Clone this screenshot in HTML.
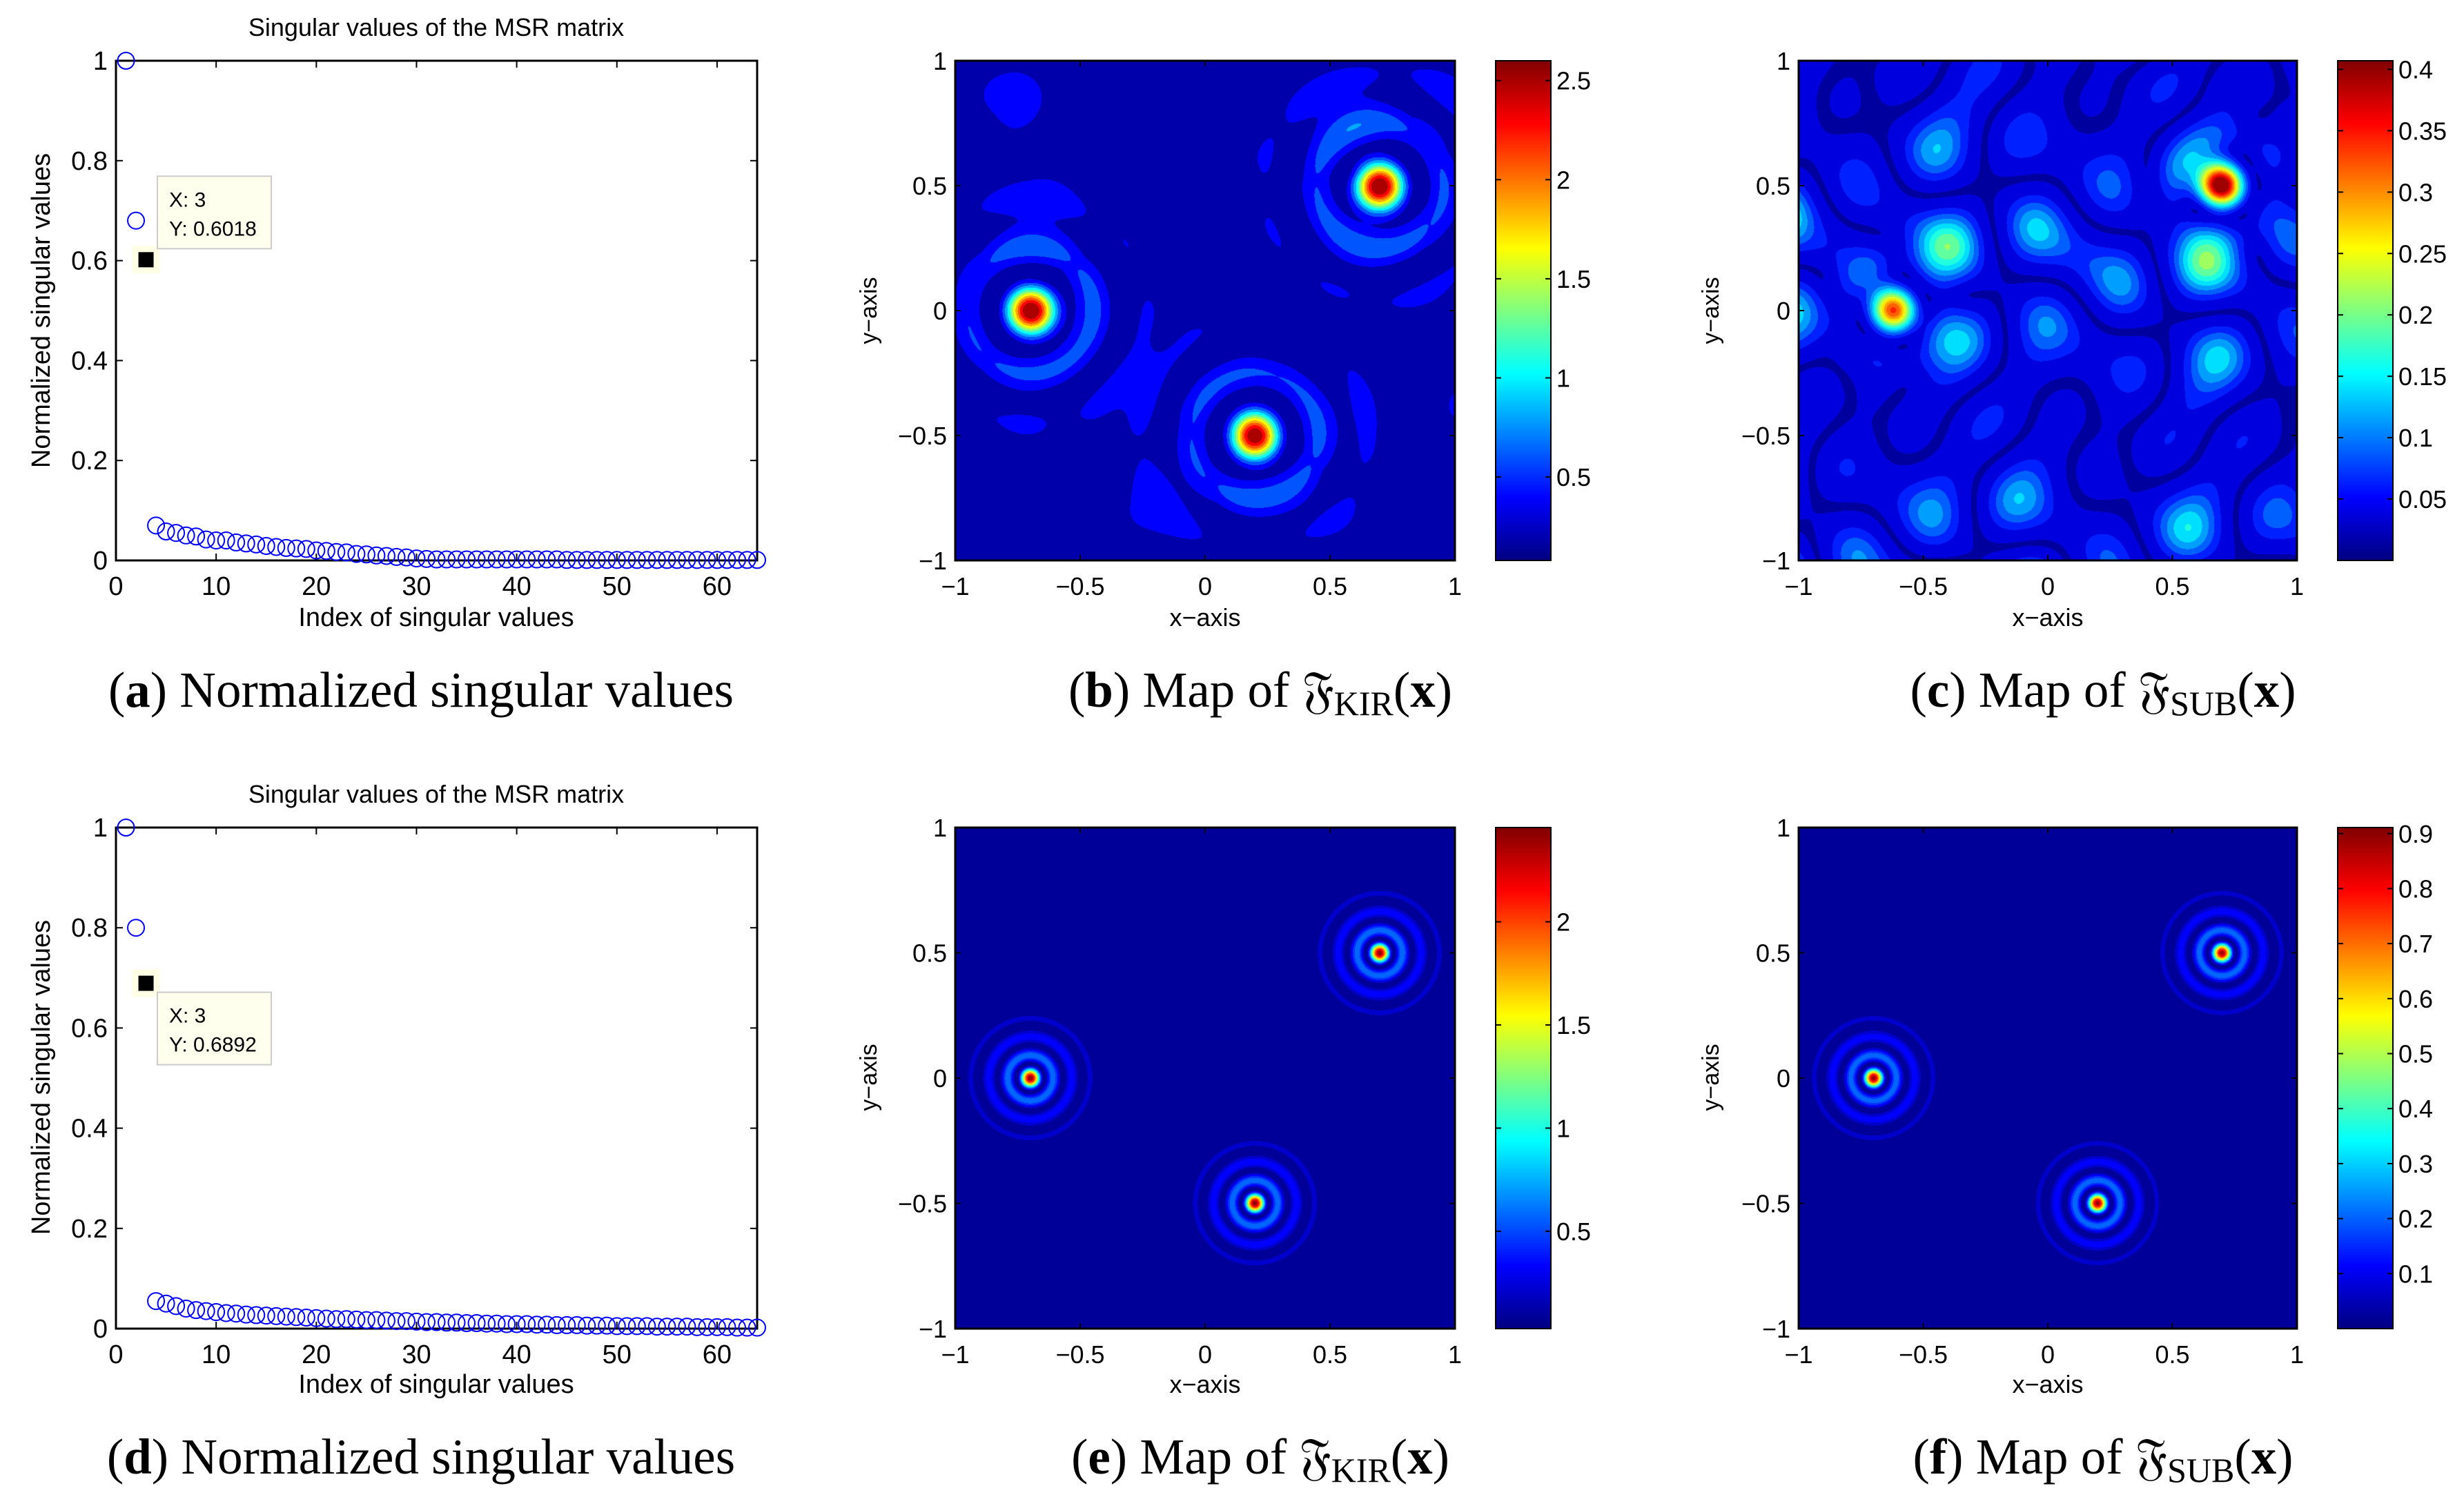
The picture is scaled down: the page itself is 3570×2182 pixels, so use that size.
<!DOCTYPE html>
<html><head><meta charset="utf-8">
<style>
html,body{margin:0;padding:0;background:#fff;}
#wrap{position:relative;width:3570px;height:2182px;overflow:hidden;}
canvas{position:absolute;}
svg{position:absolute;left:0;top:0;}
.t{font-family:"Liberation Sans",sans-serif;fill:#000;}
.n{font-family:"Liberation Sans Narrow","Liberation Sans",sans-serif;fill:#000;}
.cap{font-family:"Liberation Serif","DejaVu Serif",serif;fill:#000;font-size:73px;}
</style></head>
<body>
<div id="wrap">
<canvas id="cb" width="724" height="724" style="left:1384px;top:88px"></canvas>
<canvas id="cc" width="722" height="724" style="left:2606px;top:88px"></canvas>
<canvas id="ce" width="724" height="726" style="left:1384px;top:1199px"></canvas>
<canvas id="cf" width="722" height="726" style="left:2606px;top:1199px"></canvas>
<svg id="s" width="3570" height="2182" xmlns="http://www.w3.org/2000/svg">
<defs>
<linearGradient id="jet" x1="0" y1="1" x2="0" y2="0">
<stop offset="0" stop-color="#000080"/><stop offset="0.125" stop-color="#0000ff"/>
<stop offset="0.375" stop-color="#00ffff"/><stop offset="0.625" stop-color="#ffff00"/>
<stop offset="0.875" stop-color="#ff0000"/><stop offset="1" stop-color="#800000"/>
</linearGradient>
</defs>
<text class="t" x="632" y="52" font-size="36" text-anchor="middle">Singular values of the MSR matrix</text>
<text class="t" x="632" y="1163" font-size="36" text-anchor="middle">Singular values of the MSR matrix</text>
<text class="t" x="632" y="907" font-size="38" text-anchor="middle">Index of singular values</text>
<text class="t" x="632" y="2018" font-size="38" text-anchor="middle">Index of singular values</text>
<text class="t" font-size="38" text-anchor="middle" transform="translate(72,450) rotate(-90)">Normalized singular values</text>
<text class="t" font-size="38" text-anchor="middle" transform="translate(72,1561) rotate(-90)">Normalized singular values</text>
<text class="n" x="1746" y="907" font-size="36" text-anchor="middle">x−axis</text>
<text class="n" x="2967" y="907" font-size="36" text-anchor="middle">x−axis</text>
<text class="n" x="1746" y="2018" font-size="36" text-anchor="middle">x−axis</text>
<text class="n" x="2967" y="2018" font-size="36" text-anchor="middle">x−axis</text>
<text class="t" font-size="34" text-anchor="middle" transform="translate(1270,450) rotate(-90)">y−axis</text>
<text class="t" font-size="34" text-anchor="middle" transform="translate(2490,450) rotate(-90)">y−axis</text>
<text class="t" font-size="34" text-anchor="middle" transform="translate(1270,1561) rotate(-90)">y−axis</text>
<text class="t" font-size="34" text-anchor="middle" transform="translate(2490,1561) rotate(-90)">y−axis</text>
<text class="cap" x="610" y="1024" text-anchor="middle">(<tspan font-weight="bold">a</tspan>) Normalized singular values</text>
<text class="cap" x="1826" y="1024" text-anchor="middle">(<tspan font-weight="bold">b</tspan>) Map of 𝔉<tspan font-size="50" dy="12">KIR</tspan><tspan dy="-12">(</tspan><tspan font-weight="bold">x</tspan>)</text>
<text class="cap" x="3047" y="1024" text-anchor="middle">(<tspan font-weight="bold">c</tspan>) Map of 𝔉<tspan font-size="50" dy="12">SUB</tspan><tspan dy="-12">(</tspan><tspan font-weight="bold">x</tspan>)</text>
<text class="cap" x="610" y="2135" text-anchor="middle">(<tspan font-weight="bold">d</tspan>) Normalized singular values</text>
<text class="cap" x="1826" y="2135" text-anchor="middle">(<tspan font-weight="bold">e</tspan>) Map of 𝔉<tspan font-size="50" dy="12">KIR</tspan><tspan dy="-12">(</tspan><tspan font-weight="bold">x</tspan>)</text>
<text class="cap" x="3047" y="2135" text-anchor="middle">(<tspan font-weight="bold">f</tspan>) Map of 𝔉<tspan font-size="50" dy="12">SUB</tspan><tspan dy="-12">(</tspan><tspan font-weight="bold">x</tspan>)</text>
<g id="dyn"></g>
</svg>
</div>
<script>
// ---- scatter data ----
const svTop = [1,0.68,0.6018,0.070,0.058,0.055,0.050,0.048,0.042,0.040,0.040,0.036,0.034,0.032,0.029,0.027,0.025,0.024,0.023,0.020,0.019,0.017,0.016,0.013,0.012,0.010,0.009,0.007,0.006,0.004,0.003,0.002,0.002,0.002,0.002,0.002,0.002,0.002,0.002,0.002,0.002,0.002,0.002,0.002,0.001,0.001,0.001,0.001,0.001,0.001,0.001,0.001,0.001,0.001,0.001,0.001,0.001,0.001,0.001,0.001,0.001,0.001,0.001,0.001];
const svBot = [1,0.8,0.6892,0.055,0.050,0.045,0.040,0.037,0.035,0.033,0.031,0.030,0.028,0.027,0.026,0.025,0.024,0.023,0.022,0.021,0.020,0.019,0.019,0.018,0.017,0.017,0.016,0.015,0.015,0.014,0.013,0.013,0.012,0.012,0.011,0.011,0.010,0.010,0.009,0.009,0.009,0.008,0.008,0.007,0.007,0.007,0.006,0.006,0.006,0.005,0.005,0.005,0.005,0.004,0.004,0.004,0.004,0.003,0.003,0.003,0.003,0.002,0.002,0.002];
const xTicksSV = [0,10,20,30,40,50,60];
const yTicksSV = [0,0.2,0.4,0.6,0.8,1];
const yTickLabelsSV = ["0","0.2","0.4","0.6","0.8","1"];
const tipIndex = 3;
// ---- map data ----
const mapTicks = [-1,-0.5,0,0.5,1];
const mapTickLabels = ["−1","−0.5","0","0.5","1"];
const srcX = [-0.7,0.7,0.2];
const srcY = [0,0.5,-0.5];
const subSrcX = [-0.62,0.7];
const subSrcY = [0,0.5];
const subSrcW = [0.78,1.0];
const cbRangeB = [0.079,2.6]; const cbTicksB = [0.5,1,1.5,2,2.5]; const cbLabelsB=["0.5","1","1.5","2","2.5"];
const cbRangeC = [0.0,0.407]; const cbTicksC = [0.05,0.1,0.15,0.2,0.25,0.3,0.35,0.4]; const cbLabelsC=["0.05","0.1","0.15","0.2","0.25","0.3","0.35","0.4"];
const cbRangeE = [0.028,2.457]; const cbTicksE = [0.5,1,1.5,2]; const cbLabelsE=["0.5","1","1.5","2"];
const cbRangeF = [0.0,0.911]; const cbTicksF = [0.1,0.2,0.3,0.4,0.5,0.6,0.7,0.8,0.9]; const cbLabelsF=["0.1","0.2","0.3","0.4","0.5","0.6","0.7","0.8","0.9"];

const NS="http://www.w3.org/2000/svg";
const dyn=document.getElementById('dyn');
function mk(tag,attrs,parent){const e=document.createElementNS(NS,tag);for(const k in attrs)e.setAttribute(k,attrs[k]);(parent||dyn).appendChild(e);return e;}

function scatterPlot(vals,x0,x1,y0,y1,tag,tipBelow){
  const sx=v=>x0+v/64*(x1-x0), sy=v=>y1-v*(y1-y0);
  const g=mk('g',{});
  
  
  const fr=mk('rect',{x:x0,y:y0,width:x1-x0,height:y1-y0,fill:'none',stroke:'#000','stroke-width':3},g);
  
  
  xTicksSV.forEach(v=>{
    const x=sx(v);
    mk('line',{x1:x,x2:x,y1:y1,y2:y1-10,stroke:'#000','stroke-width':2},g);
    mk('line',{x1:x,x2:x,y1:y0,y2:y0+10,stroke:'#000','stroke-width':2},g);
    const t=mk('text',{x:x,y:y1+50,'font-size':38,'text-anchor':'middle',class:'t'},g);
    t.textContent=String(v);
    
    
  });
  yTicksSV.forEach((v,i)=>{
    const y=sy(v);
    mk('line',{x1:x0,x2:x0+10,y1:y,y2:y,stroke:'#000','stroke-width':2},g);
    mk('line',{x1:x1,x2:x1-10,y1:y,y2:y,stroke:'#000','stroke-width':2},g);
    const t=mk('text',{x:x0-12,y:y+13,'font-size':38,'text-anchor':'end',class:'t'},g);
    t.textContent=yTickLabelsSV[i];
    
    
  });
  vals.forEach((v,i)=>{
    const idx=i+1;
    if(idx===tipIndex) return;
    const c=mk('circle',{cx:sx(idx),cy:sy(v),r:12,fill:'none',stroke:'#0000ff','stroke-width':2},g);
    
    
  });
  const px=sx(tipIndex), py=sy(vals[tipIndex-1]);
  const bg=mk('rect',{x:px-20,y:py-20,width:40,height:40,fill:'#ffffe6'},g);
  
  
  const sq=mk('rect',{x:px-11,y:py-11,width:22,height:22,fill:'#000'},g);
  
  
  const by= tipBelow? py+13 : py-121;
  const box=mk('rect',{x:228,y:by,width:165,height:105,fill:'#ffffee',stroke:'#cccccc','stroke-width':2},g);
  
  
  const t1=mk('text',{x:245,y:by+44,'font-size':30,class:'t'},g);
  t1.textContent='X: '+tipIndex;
  
  
  const t2=mk('text',{x:245,y:by+86,'font-size':30,class:'t'},g);
  t2.textContent='Y: '+vals[tipIndex-1];
  
  
}
scatterPlot(svTop,168,1097,88,812,'a',false);
scatterPlot(svBot,168,1097,1199,1925,'d',true);

function mapAxes(x0,x1,y0,y1,tag){
  const g=mk('g',{});
  
  
  const sx=v=>x0+(v+1)/2*(x1-x0), sy=v=>y1-(v+1)/2*(y1-y0);
  const fr=mk('rect',{x:x0,y:y0,width:x1-x0,height:y1-y0,fill:'none',stroke:'#000','stroke-width':3},g);
  
  
  mapTicks.forEach((v,i)=>{
    const x=sx(v),y=sy(v);
    mk('line',{x1:x,x2:x,y1:y1,y2:y1-8,stroke:'#000','stroke-width':2},g);
    mk('line',{x1:x,x2:x,y1:y0,y2:y0+8,stroke:'#000','stroke-width':2},g);
    mk('line',{x1:x0,x2:x0+8,y1:y,y2:y,stroke:'#000','stroke-width':2},g);
    mk('line',{x1:x1,x2:x1-8,y1:y,y2:y,stroke:'#000','stroke-width':2},g);
    const t=mk('text',{x:x,y:y1+50,'font-size':36,'text-anchor':'middle',class:'n'},g);
    t.textContent=mapTickLabels[i];
    
    
    const u=mk('text',{x:x0-12,y:y+13,'font-size':36,'text-anchor':'end',class:'n'},g);
    u.textContent=mapTickLabels[i];
    
    
  });
}
function colorbar(x0,x1,y0,y1,range,ticks,labels,tag){
  const g=mk('g',{});
  
  
  mk('rect',{x:x0,y:y0,width:x1-x0,height:y1-y0,fill:'url(#jet)',stroke:'#000','stroke-width':2},g);
  const sy=v=>y1-(v-range[0])/(range[1]-range[0])*(y1-y0);
  ticks.forEach((v,i)=>{
    const y=sy(v);
    mk('line',{x1:x0,x2:x0+8,y1:y,y2:y,stroke:'#000','stroke-width':2},g);
    mk('line',{x1:x1,x2:x1-8,y1:y,y2:y,stroke:'#000','stroke-width':2},g);
    const t=mk('text',{x:x1+8,y:y+13,'font-size':36,class:'n'},g);
    t.textContent=labels[i];
    
    
  });
}
mapAxes(1384,2108,88,812,'b'); mapAxes(2606,3328,88,812,'c');
mapAxes(1384,2108,1199,1925,'e'); mapAxes(2606,3328,1199,1925,'f');
colorbar(2167,2247,88,812,cbRangeB,cbTicksB,cbLabelsB,'b');
colorbar(3387,3467,88,812,cbRangeC,cbTicksC,cbLabelsC,'c');
colorbar(2167,2247,1199,1925,cbRangeE,cbTicksE,cbLabelsE,'e');
colorbar(3387,3467,1199,1925,cbRangeF,cbTicksF,cbLabelsF,'f');

function j0(x){
  const ax=Math.abs(x);
  if(ax<8){const y=x*x;
    const a1=57568490574.0+y*(-13362590354.0+y*(651619640.7+y*(-11214424.18+y*(77392.33017+y*(-184.9052456)))));
    const a2=57568490411.0+y*(1029532985.0+y*(9494680.718+y*(59272.64853+y*(267.8532712+y*1.0))));
    return a1/a2;}
  const z=8/ax,y=z*z,xx=ax-0.785398164;
  const a1=1.0+y*(-0.1098628627e-2+y*(0.2734510407e-4+y*(-0.2073370639e-5+y*0.2093887211e-6)));
  const a2=-0.1562499995e-1+y*(0.1430488765e-3+y*(-0.6911051753e-5+y*(0.7621095161e-6-y*0.934935152e-7)));
  return Math.sqrt(0.636619772/ax)*(Math.cos(xx)*a1-z*Math.sin(xx)*a2);
}
function jet(t){
  const c=v=>Math.max(0,Math.min(1,v));
  return [c(1.5-Math.abs(4*t-3))*255,c(1.5-Math.abs(4*t-2))*255,c(1.5-Math.abs(4*t-1))*255];
}
function drawMap(id,fn,levels){
  const cv=document.getElementById(id),ctx=cv.getContext('2d');
  const W=cv.width,H=cv.height,img=ctx.createImageData(W,H);
  for(let j=0;j<H;j++){const y=1-2*j/(H-1);
    for(let i=0;i<W;i++){const x=-1+2*i/(W-1);
      let t=Math.max(0,Math.min(0.9999,fn(x,y)));
      t=(Math.floor(t*levels)+0.5)/levels;
      const c=jet(t),p=(j*W+i)*4;
      img.data[p]=c[0];img.data[p+1]=c[1];img.data[p+2]=c[2];img.data[p+3]=255;}}
  ctx.putImageData(img,0,0);
}
function kir(x,y,k,xs,ys){let s=0;for(let n=0;n<xs.length;n++){s+=j0(k*Math.hypot(x-xs[n],y-ys[n]));}return s;}
function incoh(x,y,k,xs,ys,pw,L){let s=0;for(let n=0;n<xs.length;n++){const r=Math.hypot(x-xs[n],y-ys[n]);s+=Math.pow(Math.abs(j0(k*r)),pw)*Math.exp(-Math.pow(r/L,4));}return s;}
function texture(x,y){return Math.abs(Math.cos(7.1*x+2.3*y+0.4)*Math.cos(2.2*x-6.8*y+1.1)+0.5*Math.cos(5.3*x+5.9*y+2)+0.45*Math.cos(-4.4*x+6.2*y+0.7))/2.0;}
// (b)
drawMap('cb',(x,y)=>{const c=kir(x,y,15,srcX,srcY);return 0.98*incoh(x,y,15,srcX,srcY,2,0.55)+0.04*c*c+0.11*texture(x,y);},12);
// (c)
drawMap('cc',(x,y)=>{
  let p=0;
  for(let n=0;n<subSrcX.length;n++){const r=Math.hypot(x-subSrcX[n],y-subSrcY[n]);const v=j0(16*r);p+=subSrcW[n]*v*v*Math.exp(-r*r/0.04);}
  const tx=Math.abs(Math.cos(9.3*x+2.1*y)*Math.cos(2.7*x-8.6*y)+0.55*Math.cos(6.3*x+6.1*y+1)+0.4*Math.cos(-5*x+7*y+2))/2.2;
  return 0.06+0.6*tx*tx+0.95*p;
},16);
// (e)
drawMap('ce',(x,y)=>incoh(x,y,42,srcX,srcY,1.6,0.27),20);
// (f)
drawMap('cf',(x,y)=>0.98*incoh(x,y,42,srcX,srcY,1.6,0.27),20);
</script>
</body></html>
